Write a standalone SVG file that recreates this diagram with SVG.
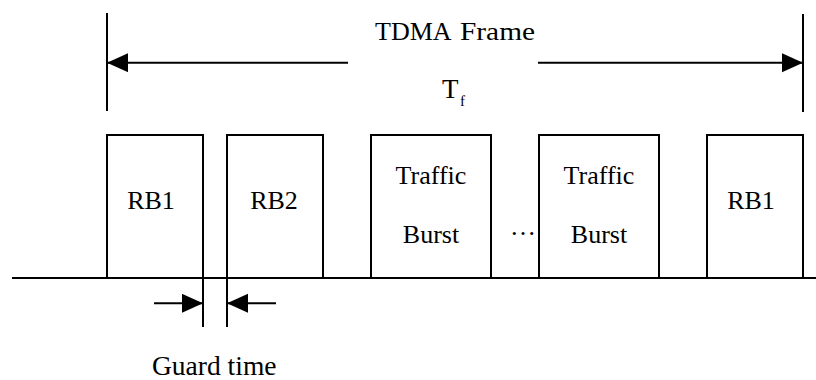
<svg xmlns="http://www.w3.org/2000/svg" width="816" height="380" viewBox="0 0 816 380">
<style>
  .ln { stroke: #000; stroke-width: 2; fill: none; }
  .box { stroke: #000; stroke-width: 2; fill: #fff; }
  .t { font-family: "Liberation Serif", "Times New Roman", serif; font-size: 26px; fill: #000; }
  .tc { text-anchor: middle; }
</style>
<defs>
  <marker id="ah" markerUnits="userSpaceOnUse" markerWidth="22" markerHeight="20" refX="21" refY="9.5" orient="auto">
    <path d="M0,0 L21,9.5 L0,19 z" fill="#000"/>
  </marker>
</defs>
<rect width="816" height="380" fill="#fff"/>

<g id="frame-label">
  <line class="ln" x1="107" y1="13" x2="107" y2="111"/>
  <line class="ln" x1="803" y1="14" x2="803" y2="112"/>
  <text class="t" x="375" y="40">TDMA<tspan x="460" textLength="75" lengthAdjust="spacingAndGlyphs">Frame</tspan></text>
  <text class="t" x="442" y="97.5" style="font-size:27px">T<tspan x="460" y="105.5" style="font-size:15px">f</tspan></text>
</g>

<g id="baseline">
  <line class="ln" x1="12" y1="278" x2="816" y2="278"/>
</g>

<g id="rb1">
  <rect class="box" x="107" y="135" width="96" height="143"/>
  <text class="t tc" x="151" y="209">RB1</text>
</g>
<g id="rb2">
  <rect class="box" x="227" y="135" width="96" height="143"/>
  <text class="t tc" x="274" y="209">RB2</text>
</g>
<g id="traffic1">
  <rect class="box" x="371" y="135" width="120" height="143"/>
  <text class="t tc" x="431" y="184">Traffic</text>
  <text class="t tc" x="431" y="243">Burst</text>
</g>
<g id="dots">
  <text class="t" x="510" y="235">…</text>
</g>
<g id="traffic2">
  <rect class="box" x="539" y="135" width="120" height="143"/>
  <text class="t tc" x="599" y="184">Traffic</text>
  <text class="t tc" x="599" y="243">Burst</text>
</g>
<g id="rb1-next">
  <rect class="box" x="707" y="135" width="96" height="143"/>
  <text class="t tc" x="751" y="209">RB1</text>
</g>

<g id="guard">
  <line class="ln" x1="203" y1="278" x2="203" y2="327"/>
  <line class="ln" x1="227" y1="278" x2="227" y2="327"/>
  <text class="t" x="152" y="375" style="font-size:27.5px">Guard time</text>
</g>

<g id="connectors">
  <line class="ln" x1="348" y1="62.7" x2="107" y2="62.7" marker-end="url(#ah)"/>
  <line class="ln" x1="538" y1="62.7" x2="803" y2="62.7" marker-end="url(#ah)"/>
  <line class="ln" x1="154" y1="303.3" x2="203" y2="303.3" marker-end="url(#ah)"/>
  <line class="ln" x1="276" y1="303.3" x2="227" y2="303.3" marker-end="url(#ah)"/>
</g>
</svg>
